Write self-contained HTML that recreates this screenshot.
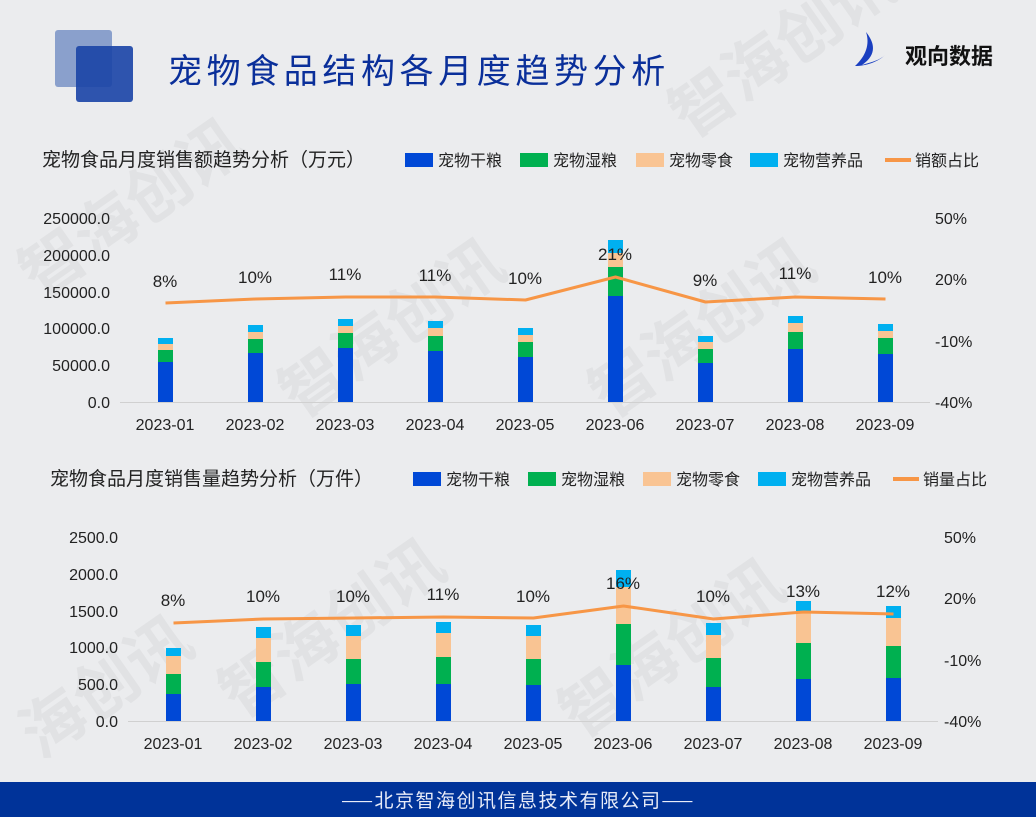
<!DOCTYPE html>
<html><head><meta charset="utf-8"><style>
body{margin:0;background:#ebecee;}
svg{display:block;font-family:"Liberation Sans","Noto Sans CJK SC",sans-serif;}
</style></head><body>
<svg width="1036" height="817" viewBox="0 0 1036 817" xmlns="http://www.w3.org/2000/svg">
<rect width="1036" height="817" fill="#ebecee"/>
<g fill="#000" fill-opacity="0.04" font-size="64" font-weight="bold" font-family="Noto Sans CJK SC,sans-serif">
<text transform="translate(40,300) rotate(-35)">智海创讯</text>
<text transform="translate(690,140) rotate(-35)">智海创讯</text>
<text transform="translate(300,420) rotate(-35)">智海创讯</text>
<text transform="translate(610,420) rotate(-35)">智海创讯</text>
<text transform="translate(40,760) rotate(-35)">海创讯</text>
<text transform="translate(240,720) rotate(-35)">智海创讯</text>
<text transform="translate(580,740) rotate(-35)">智海创讯</text>
</g>
<!-- header -->
<rect x="55" y="30" width="57" height="57" rx="3" fill="#8aa0cc"/>
<rect x="76" y="46" width="57" height="56" rx="3" fill="#1a44a6" fill-opacity="0.9"/>
<text x="168" y="83" font-size="34" fill="#0a2f9a" letter-spacing="4.6" font-family="Noto Sans CJK SC,sans-serif">宠物食品结构各月度趋势分析</text>
<path d="M866 32 C874 42 878 54 862 65 C872 62 880 60 885 55 C878 62 866 66 855 66 C866 56 870 44 866 32Z" fill="#1a3fc0"/>
<text x="905" y="64" font-size="22" font-weight="bold" fill="#111" font-family="Noto Sans CJK SC,sans-serif">观向数据</text>

<!-- top chart -->
<text x="42" y="166" font-size="19" fill="#222">宠物食品月度销售额趋势分析（万元）</text>
<g font-size="16" fill="#222">
<rect x="405" y="153" width="28" height="14" fill="#0048d6"/><text x="438" y="166">宠物干粮</text>
<rect x="520" y="153" width="28" height="14" fill="#00b050"/><text x="553" y="166">宠物湿粮</text>
<rect x="636" y="153" width="28" height="14" fill="#f9c493"/><text x="669" y="166">宠物零食</text>
<rect x="750" y="153" width="28" height="14" fill="#00b0f0"/><text x="783" y="166">宠物营养品</text>
<rect x="885" y="158" width="26" height="4" fill="#f79646"/><text x="915" y="166">销额占比</text>
</g>
<g font-size="16" fill="#222" text-anchor="end">
<text x="110" y="224">250000.0</text><text x="110" y="261">200000.0</text><text x="110" y="298">150000.0</text>
<text x="110" y="334">100000.0</text><text x="110" y="371">50000.0</text><text x="110" y="408">0.0</text>
</g>
<g font-size="16" fill="#222">
<text x="935" y="224">50%</text><text x="935" y="285">20%</text><text x="935" y="347">-10%</text><text x="935" y="408">-40%</text>
</g>
<line x1="120" y1="402.5" x2="930" y2="402.5" stroke="#d0d0d0"/>
<g font-size="16" fill="#222" text-anchor="middle">
<text x="165" y="430">2023-01</text><text x="255" y="430">2023-02</text><text x="345" y="430">2023-03</text>
<text x="435" y="430">2023-04</text><text x="525" y="430">2023-05</text><text x="615" y="430">2023-06</text>
<text x="705" y="430">2023-07</text><text x="795" y="430">2023-08</text><text x="885" y="430">2023-09</text>
</g>
<g>
<rect x="158" y="362" width="15" height="40" fill="#0048d6"/><rect x="158" y="350" width="15" height="12" fill="#00b050"/><rect x="158" y="344" width="15" height="6" fill="#f9c493"/><rect x="158" y="338" width="15" height="6" fill="#00b0f0"/>
<rect x="248" y="353" width="15" height="49" fill="#0048d6"/><rect x="248" y="339" width="15" height="14" fill="#00b050"/><rect x="248" y="332" width="15" height="7" fill="#f9c493"/><rect x="248" y="325" width="15" height="7" fill="#00b0f0"/>
<rect x="338" y="348" width="15" height="54" fill="#0048d6"/><rect x="338" y="333" width="15" height="15" fill="#00b050"/><rect x="338" y="326" width="15" height="7" fill="#f9c493"/><rect x="338" y="319" width="15" height="7" fill="#00b0f0"/>
<rect x="428" y="351" width="15" height="51" fill="#0048d6"/><rect x="428" y="336" width="15" height="15" fill="#00b050"/><rect x="428" y="328" width="15" height="8" fill="#f9c493"/><rect x="428" y="321" width="15" height="7" fill="#00b0f0"/>
<rect x="518" y="357" width="15" height="45" fill="#0048d6"/><rect x="518" y="342" width="15" height="15" fill="#00b050"/><rect x="518" y="335" width="15" height="7" fill="#f9c493"/><rect x="518" y="328" width="15" height="7" fill="#00b0f0"/>
<rect x="608" y="296" width="15" height="106" fill="#0048d6"/><rect x="608" y="267" width="15" height="29" fill="#00b050"/><rect x="608" y="253" width="15" height="14" fill="#f9c493"/><rect x="608" y="240" width="15" height="13" fill="#00b0f0"/>
<rect x="698" y="363" width="15" height="39" fill="#0048d6"/><rect x="698" y="349" width="15" height="14" fill="#00b050"/><rect x="698" y="342" width="15" height="7" fill="#f9c493"/><rect x="698" y="336" width="15" height="6" fill="#00b0f0"/>
<rect x="788" y="349" width="15" height="53" fill="#0048d6"/><rect x="788" y="332" width="15" height="17" fill="#00b050"/><rect x="788" y="323" width="15" height="9" fill="#f9c493"/><rect x="788" y="316" width="15" height="7" fill="#00b0f0"/>
<rect x="878" y="354" width="15" height="48" fill="#0048d6"/><rect x="878" y="338" width="15" height="16" fill="#00b050"/><rect x="878" y="331" width="15" height="7" fill="#f9c493"/><rect x="878" y="324" width="15" height="7" fill="#00b0f0"/>
</g>
<polyline points="165.5,303 255.5,299 345.5,297 435.5,297 525.5,300 615.5,277 705.5,302 795.5,297 885.5,299" fill="none" stroke="#f79646" stroke-width="3" stroke-linejoin="round"/>
<g font-size="17" fill="#222" text-anchor="middle">
<text x="165" y="287">8%</text><text x="255" y="283">10%</text><text x="345" y="280">11%</text><text x="435" y="281">11%</text><text x="525" y="284">10%</text>
<text x="615" y="260">21%</text><text x="705" y="286">9%</text><text x="795" y="279">11%</text><text x="885" y="283">10%</text>
</g>

<!-- bottom chart -->
<text x="50" y="485" font-size="19" fill="#222">宠物食品月度销售量趋势分析（万件）</text>
<g font-size="16" fill="#222">
<rect x="413" y="472" width="28" height="14" fill="#0048d6"/><text x="446" y="485">宠物干粮</text>
<rect x="528" y="472" width="28" height="14" fill="#00b050"/><text x="561" y="485">宠物湿粮</text>
<rect x="643" y="472" width="28" height="14" fill="#f9c493"/><text x="676" y="485">宠物零食</text>
<rect x="758" y="472" width="28" height="14" fill="#00b0f0"/><text x="791" y="485">宠物营养品</text>
<rect x="893" y="477" width="26" height="4" fill="#f79646"/><text x="923" y="485">销量占比</text>
</g>
<g font-size="16" fill="#222" text-anchor="end">
<text x="118" y="543">2500.0</text><text x="118" y="580">2000.0</text><text x="118" y="617">1500.0</text>
<text x="118" y="653">1000.0</text><text x="118" y="690">500.0</text><text x="118" y="727">0.0</text>
</g>
<g font-size="16" fill="#222">
<text x="944" y="543">50%</text><text x="944" y="604">20%</text><text x="944" y="666">-10%</text><text x="944" y="727">-40%</text>
</g>
<line x1="128" y1="721.5" x2="938" y2="721.5" stroke="#d0d0d0"/>
<g font-size="16" fill="#222" text-anchor="middle">
<text x="173" y="749">2023-01</text><text x="263" y="749">2023-02</text><text x="353" y="749">2023-03</text>
<text x="443" y="749">2023-04</text><text x="533" y="749">2023-05</text><text x="623" y="749">2023-06</text>
<text x="713" y="749">2023-07</text><text x="803" y="749">2023-08</text><text x="893" y="749">2023-09</text>
</g>
<g>
<rect x="166" y="694" width="15" height="27" fill="#0048d6"/><rect x="166" y="674" width="15" height="20" fill="#00b050"/><rect x="166" y="656" width="15" height="18" fill="#f9c493"/><rect x="166" y="648" width="15" height="8" fill="#00b0f0"/>
<rect x="256" y="687" width="15" height="34" fill="#0048d6"/><rect x="256" y="662" width="15" height="25" fill="#00b050"/><rect x="256" y="638" width="15" height="24" fill="#f9c493"/><rect x="256" y="627" width="15" height="11" fill="#00b0f0"/>
<rect x="346" y="684" width="15" height="37" fill="#0048d6"/><rect x="346" y="659" width="15" height="25" fill="#00b050"/><rect x="346" y="636" width="15" height="23" fill="#f9c493"/><rect x="346" y="625" width="15" height="11" fill="#00b0f0"/>
<rect x="436" y="684" width="15" height="37" fill="#0048d6"/><rect x="436" y="657" width="15" height="27" fill="#00b050"/><rect x="436" y="633" width="15" height="24" fill="#f9c493"/><rect x="436" y="622" width="15" height="11" fill="#00b0f0"/>
<rect x="526" y="685" width="15" height="36" fill="#0048d6"/><rect x="526" y="659" width="15" height="26" fill="#00b050"/><rect x="526" y="636" width="15" height="23" fill="#f9c493"/><rect x="526" y="625" width="15" height="11" fill="#00b0f0"/>
<rect x="616" y="665" width="15" height="56" fill="#0048d6"/><rect x="616" y="624" width="15" height="41" fill="#00b050"/><rect x="616" y="587" width="15" height="37" fill="#f9c493"/><rect x="616" y="570" width="15" height="17" fill="#00b0f0"/>
<rect x="706" y="687" width="15" height="34" fill="#0048d6"/><rect x="706" y="658" width="15" height="29" fill="#00b050"/><rect x="706" y="635" width="15" height="23" fill="#f9c493"/><rect x="706" y="623" width="15" height="12" fill="#00b0f0"/>
<rect x="796" y="679" width="15" height="42" fill="#0048d6"/><rect x="796" y="643" width="15" height="36" fill="#00b050"/><rect x="796" y="611" width="15" height="32" fill="#f9c493"/><rect x="796" y="601" width="15" height="10" fill="#00b0f0"/>
<rect x="886" y="678" width="15" height="43" fill="#0048d6"/><rect x="886" y="646" width="15" height="32" fill="#00b050"/><rect x="886" y="618" width="15" height="28" fill="#f9c493"/><rect x="886" y="606" width="15" height="12" fill="#00b0f0"/>
</g>
<polyline points="173.5,623 263.5,619 353.5,618 443.5,617 533.5,618 623.5,606 713.5,619 803.5,612 893.5,614" fill="none" stroke="#f79646" stroke-width="3" stroke-linejoin="round"/>
<g font-size="17" fill="#222" text-anchor="middle">
<text x="173" y="606">8%</text><text x="263" y="602">10%</text><text x="353" y="602">10%</text><text x="443" y="600">11%</text><text x="533" y="602">10%</text>
<text x="623" y="589">16%</text><text x="713" y="602">10%</text><text x="803" y="597">13%</text><text x="893" y="597">12%</text>
</g>

<!-- footer -->
<rect x="0" y="782" width="1036" height="35" fill="#003399"/>
<text x="518" y="807" font-size="19" fill="#e8ecf8" text-anchor="middle" letter-spacing="1.5" font-family="Noto Sans CJK SC,sans-serif">——北京智海创讯信息技术有限公司——</text>
</svg>
</body></html>
